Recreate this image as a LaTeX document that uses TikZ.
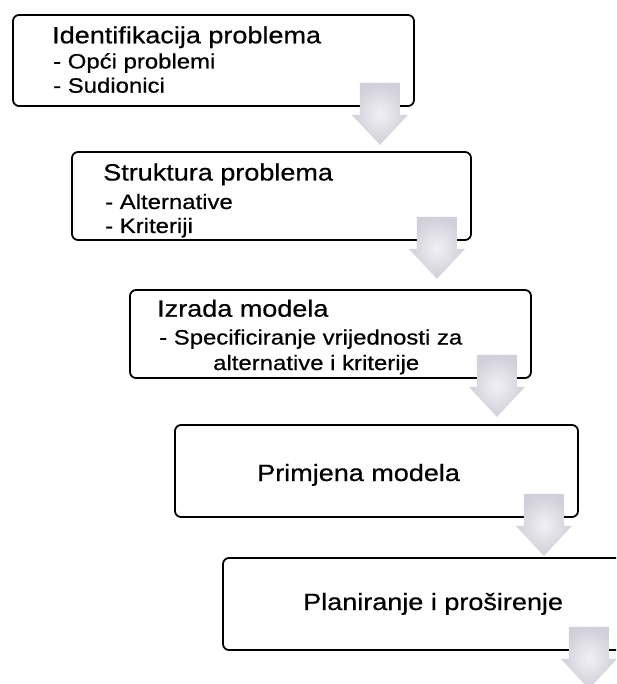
\documentclass[tikz,border=0pt]{standalone}
\usepackage{fontspec}
\setmainfont{Liberation Sans}[FakeStretch=1.15,FakeBold=0.6]
\usetikzlibrary{calc}
\definecolor{arrowouter}{RGB}{208,207,218}
\definecolor{arrowinner}{RGB}{240,240,244}
\tikzset{
  procbox/.style={draw=black, line width=1.8pt, rounded corners=6pt, rectangle, inner sep=0pt},
  titletext/.style={anchor=base west, inner sep=0pt, font=\fontsize{23.5}{28}\selectfont},
  subtext/.style={anchor=base west, inner sep=0pt, font=\fontsize{20.8}{24}\selectfont},
  downarrow/.style={shading=radial, inner color=arrowinner, outer color=arrowouter, draw=none}
}
\newcommand{\boxarrow}[1]{%
  \shade[downarrow, shift={(#1.south east)}]
    (-55,-24) -- (-15,-24) -- (-15,8) -- (-7,8) -- (-35,38) -- (-63,8) -- (-55,8) -- cycle;}
\begin{document}
\begin{tikzpicture}[x=1pt,y=-1pt]
\useasboundingbox (0,0) rectangle (616,684);
\clip (0,0) rectangle (616,684);
\fill[white] (0,0) rectangle (616,684);

\node[procbox, minimum width=401pt, minimum height=91pt] (b1) at (213.5,60.5) {};
\node[procbox, minimum width=399pt, minimum height=88pt] (b2) at (271.5,196) {};
\node[procbox, minimum width=401pt, minimum height=88pt] (b3) at (330.5,334) {};
\node[procbox, minimum width=403pt, minimum height=92pt] (b4) at (376.5,471) {};
\node[procbox, minimum width=400pt, minimum height=92pt] (b5) at (423,604) {};

\node[titletext] (t1) at (52,43.3) {Identifikacija problema};
\node[subtext] (s1a) at (53,68.5) {- Opći problemi};
\node[subtext] (s1b) at (53,92.7) {- Sudionici};

\node[titletext] (t2) at (103,180.5) {Struktura problema};
\node[subtext] (s2a) at (105,209) {- Alternative};
\node[subtext] (s2b) at (105,233) {- Kriteriji};

\node[titletext] (t3) at (157,316.7) {Izrada modela};
\node[subtext] (s3a) at (159,344.5) {- Specificiranje vrijednosti za};
\node[subtext] (s3b) at (213,370) {alternative i kriterije};

\node[titletext] (t4) at (257,481) {Primjena modela};
\node[titletext] (t5) at (303,610) {Planiranje i proširenje};

\boxarrow{b1}
\boxarrow{b2}
\boxarrow{b3}
\boxarrow{b4}
\boxarrow{b5}
\end{tikzpicture}
\end{document}
